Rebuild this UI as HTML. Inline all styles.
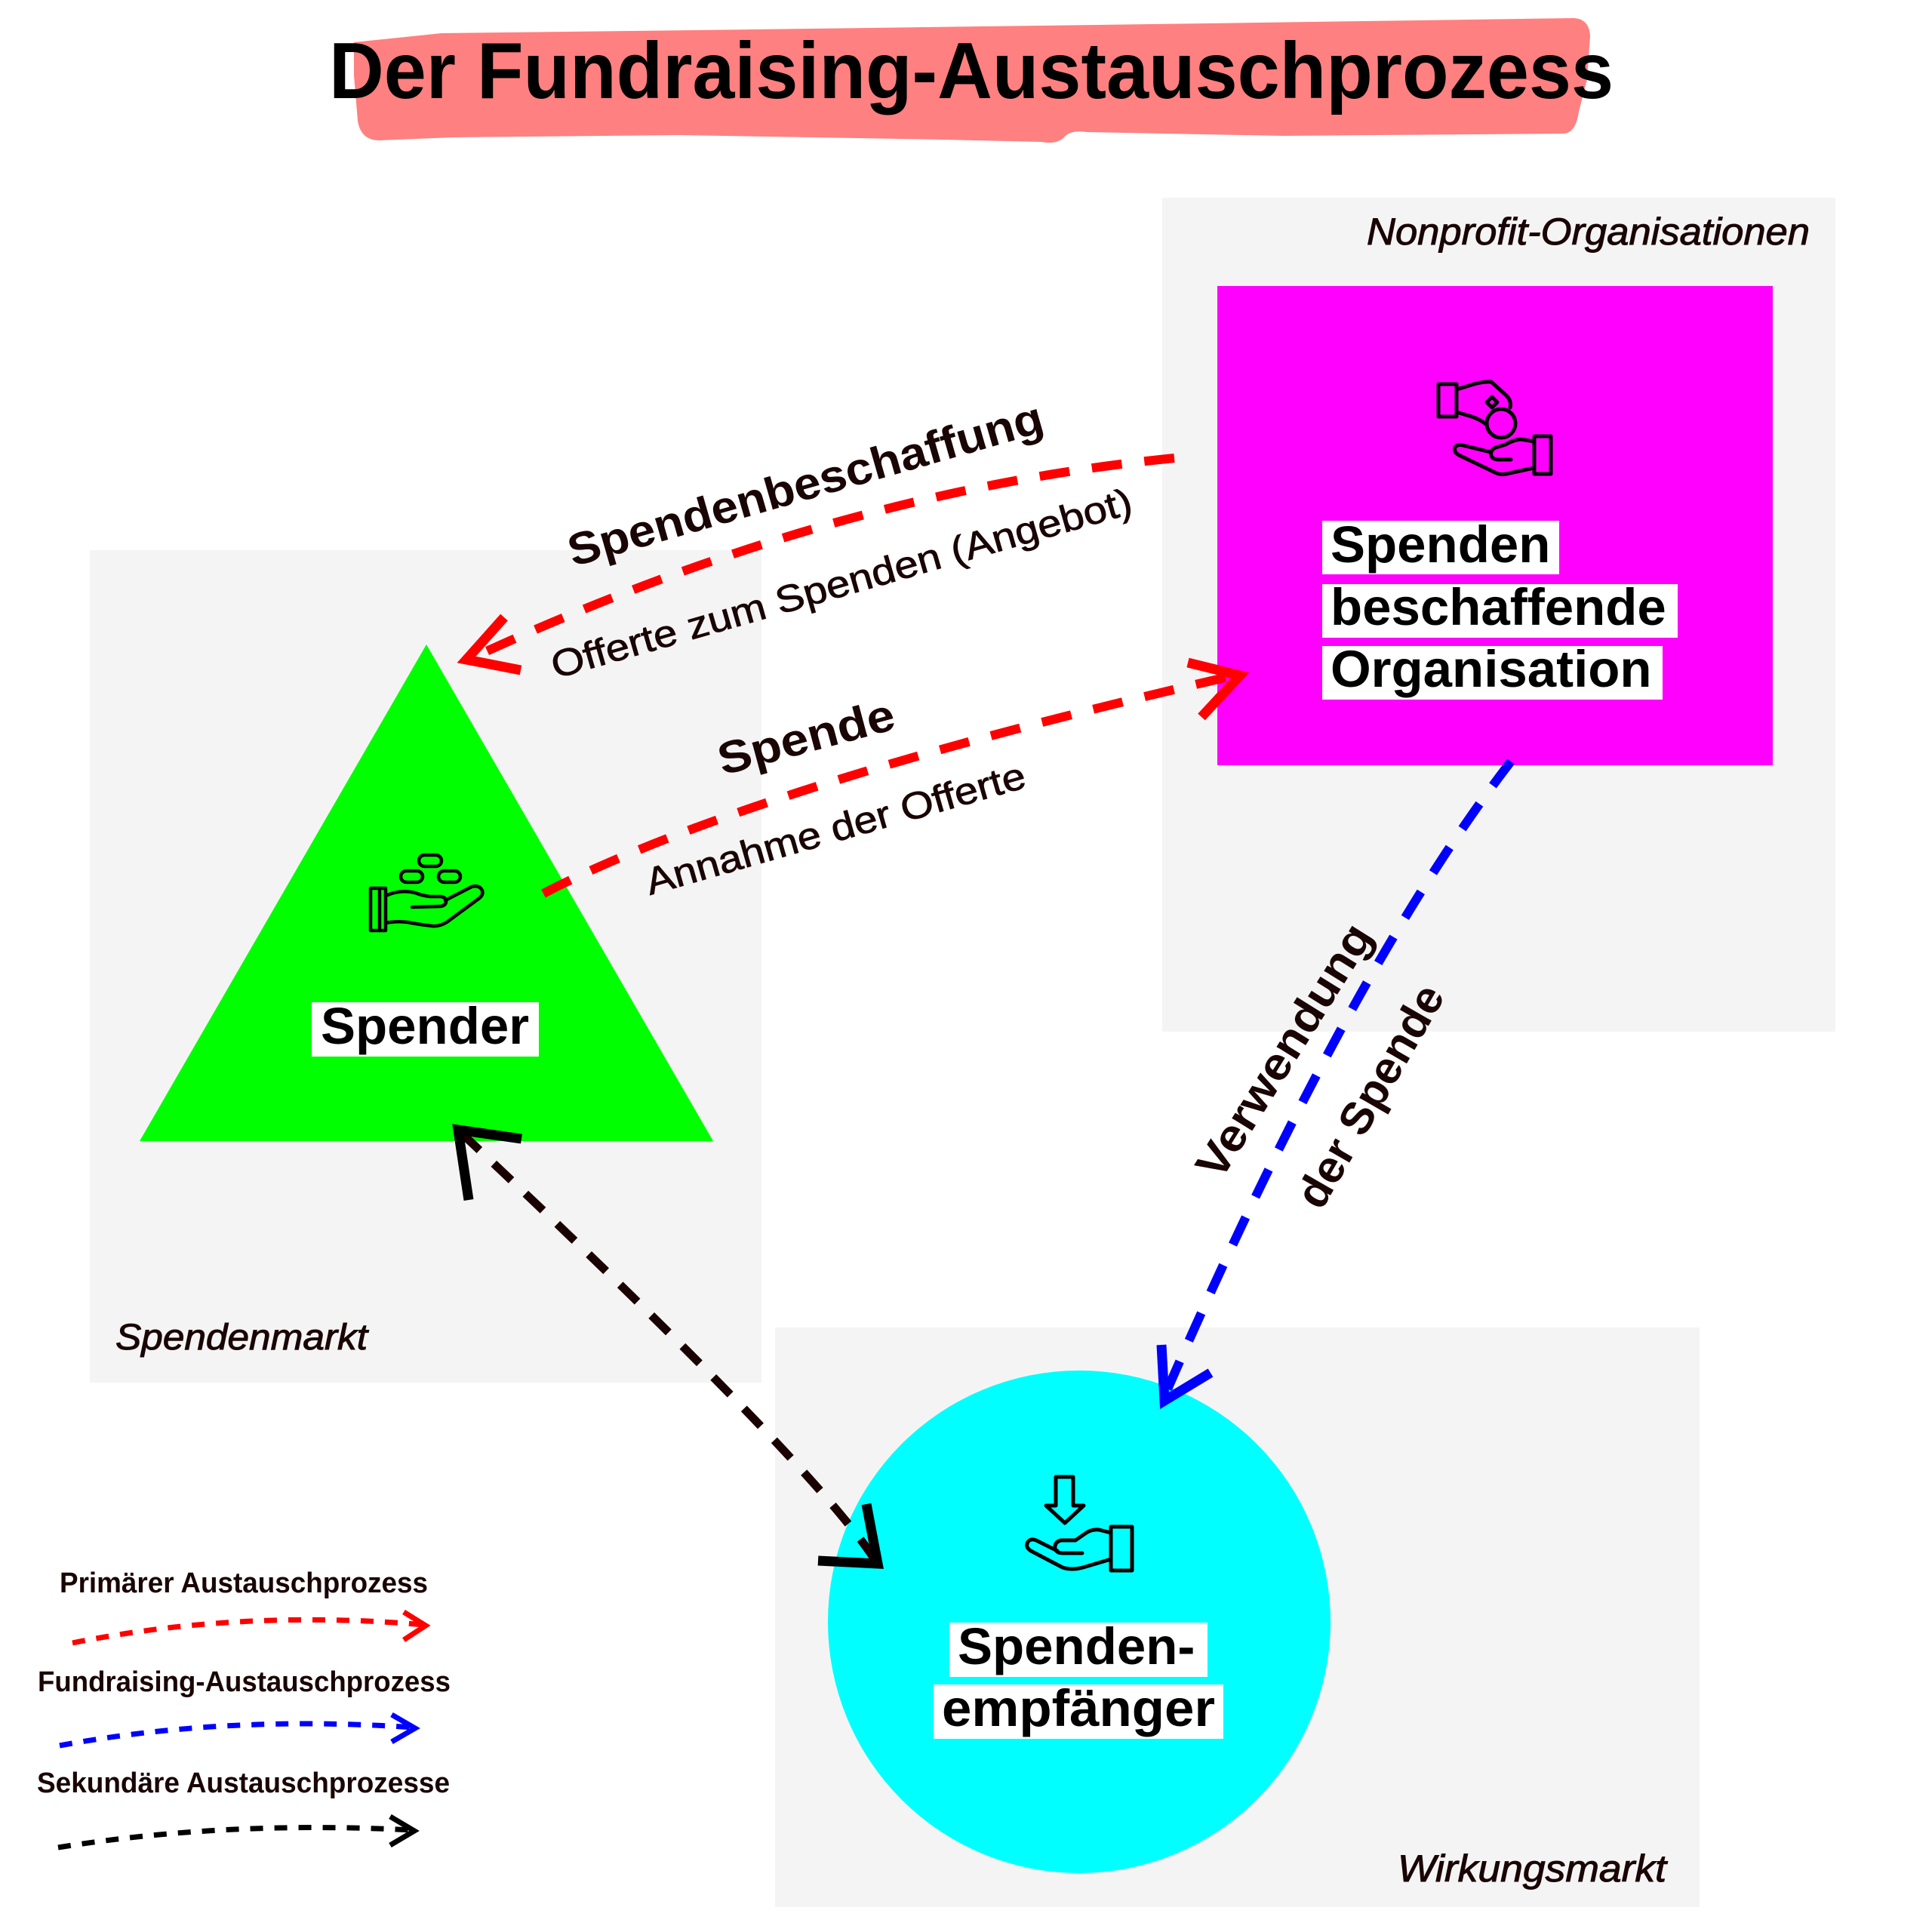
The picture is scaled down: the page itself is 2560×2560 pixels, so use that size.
<!DOCTYPE html>
<html>
<head>
<meta charset="utf-8">
<style>
html,body{margin:0;padding:0;background:#fff;}
svg{display:block;}
text{font-family:"Liberation Sans",Arial,sans-serif;}
</style>
</head>
<body>
<svg width="2560" height="2560" viewBox="0 0 2560 2560" xmlns="http://www.w3.org/2000/svg">
<rect x="0" y="0" width="2560" height="2560" fill="#ffffff"/>

<!-- Title highlight -->
<path d="M469,56 L585,44 L1000,39 L1600,31 L2085,24 Q2106,25 2107,48 L2103,105 L2092,148 Q2088,176 2072,177 L1700,180 L1440,175 Q1418,172 1410,182 Q1400,192 1380,188 L1250,185 L900,179 L600,182 L503,186 Q478,186 474,160 L469,100 Z" fill="#ff8080"/>
<text x="436" y="130" font-size="106" font-weight="bold" fill="#000" textLength="1702" lengthAdjust="spacingAndGlyphs">Der Fundraising-Austauschprozess</text>

<!-- Gray market boxes -->
<rect x="1540" y="262" width="892" height="1105" fill="#f4f4f4"/>
<rect x="119" y="729" width="890" height="1103" fill="#f4f4f4"/>
<rect x="1027" y="1759" width="1225" height="768" fill="#f4f4f4"/>

<text x="1811" y="324" font-size="50" font-style="italic" fill="#1a0505" stroke="#1a0505" stroke-width="1" textLength="587" lengthAdjust="spacingAndGlyphs">Nonprofit-Organisationen</text>
<text x="153" y="1788" font-size="48" font-style="italic" fill="#1a0505" stroke="#1a0505" stroke-width="1" textLength="334" lengthAdjust="spacingAndGlyphs">Spendenmarkt</text>
<text x="1852" y="2493" font-size="50" font-style="italic" fill="#1a0505" stroke="#1a0505" stroke-width="1" textLength="356" lengthAdjust="spacingAndGlyphs">Wirkungsmarkt</text>

<!-- Magenta node -->
<rect x="1613" y="379" width="736" height="635" fill="#ff00ff"/>
<g fill="none" stroke="#000" stroke-width="5" stroke-linejoin="round" stroke-linecap="round">
  <rect x="1906" y="509" width="24" height="43"/>
  <path d="M1930,516 C1945,512 1960,505 1976,506 L1996,524 Q2003,531 2001,540"/>
  <path d="M1930,546 L1950,552 Q1962,556 1970,563"/>
  <circle cx="1989" cy="561" r="19"/>
  <path d="M1977,526 L1984,533 L1977,540 L1970,533 Z"/>
  <rect x="2033" y="578" width="22" height="50"/>
  <path d="M2033,585 L2015,582 Q2005,583 1995,589 L1982,593 Q1974,596 1976,604 Q1978,609 1986,609 L2002,609"/>
  <path d="M2033,620 L2000,627 Q1990,630 1983,627 L1933,603 Q1926,599 1928,593 Q1931,588 1938,590 L1975,599"/>
</g>
<rect x="1752" y="690" width="314" height="71" fill="#fff"/>
<rect x="1752" y="774" width="471" height="71" fill="#fff"/>
<rect x="1752" y="856" width="451" height="71" fill="#fff"/>
<text x="1763" y="745" font-size="69" font-weight="bold" fill="#000">Spenden</text>
<text x="1763" y="828" font-size="69" font-weight="bold" fill="#000">beschaffende</text>
<text x="1763" y="910" font-size="69" font-weight="bold" fill="#000">Organisation</text>

<!-- Green triangle node -->
<polygon points="565,854 945,1512 185,1512" fill="#00ff00"/>
<g fill="none" stroke="#000" stroke-width="4.5" stroke-linejoin="round" stroke-linecap="round">
  <rect x="491" y="1177" width="20" height="56"/>
  <line x1="503" y1="1177" x2="503" y2="1233"/>
  <rect x="555" y="1133" width="30" height="15" rx="7.5"/>
  <rect x="531" y="1154" width="29" height="15" rx="7.5"/>
  <rect x="581" y="1154" width="29" height="15" rx="7.5"/>
  <path d="M511,1187 Q530,1178 550,1183 Q560,1187 570,1188 L584,1188 Q592,1189 591,1196 Q589,1201 582,1201 L546,1202"/>
  <path d="M590,1193 L625,1175 Q635,1172 639,1180 Q641,1186 634,1191 L592,1222 Q582,1228 573,1227 Q555,1225 540,1222 Q525,1220 511,1223"/>
</g>
<rect x="413" y="1328" width="301" height="72" fill="#fff"/>
<text x="425" y="1383" font-size="69" font-weight="bold" fill="#000">Spender</text>

<!-- Cyan circle node -->
<circle cx="1430" cy="2149" r="333" fill="#00ffff"/>
<g fill="none" stroke="#000" stroke-width="5" stroke-linejoin="round" stroke-linecap="round">
  <path d="M1399,1957 L1422,1957 L1422,1995 L1436,1995 L1411,2018 L1386,1995 L1399,1995 Z"/>
  <rect x="1472" y="2023" width="28" height="58"/>
  <path d="M1472,2031 L1456,2027 Q1446,2026 1438,2032 L1425,2041 L1406,2041 Q1397,2043 1398,2052 Q1400,2058 1408,2058 L1434,2058"/>
  <path d="M1472,2066 L1435,2077 Q1420,2081 1408,2077 L1366,2055 Q1358,2050 1362,2043 Q1366,2038 1373,2041 L1401,2055"/>
</g>
<rect x="1258" y="2150" width="342" height="72" fill="#fff"/>
<rect x="1237" y="2232" width="384" height="72" fill="#fff"/>
<text x="1269" y="2205" font-size="69" font-weight="bold" fill="#000">Spenden-</text>
<text x="1248" y="2287" font-size="69" font-weight="bold" fill="#000" textLength="362" lengthAdjust="spacingAndGlyphs">empfänger</text>

<!-- Red connectors -->
<path d="M1556,607 Q1100,652 625,872" fill="none" stroke="#ff0000" stroke-width="12" stroke-dasharray="40 30"/>
<polyline points="668,818 618,874 690,888" fill="none" stroke="#ff0000" stroke-width="13" stroke-linejoin="miter"/>
<path d="M720,1184 Q991,1043 1640,894" fill="none" stroke="#ff0000" stroke-width="12" stroke-dasharray="40 30"/>
<polyline points="1574,878 1643,895 1592,950" fill="none" stroke="#ff0000" stroke-width="13" stroke-linejoin="miter"/>

<!-- Blue connector -->
<path d="M2002,1009 Q1787,1288 1543,1850" fill="none" stroke="#0000ff" stroke-width="12" stroke-dasharray="40 30"/>
<polyline points="1539,1782 1543,1856 1604,1819" fill="none" stroke="#0000ff" stroke-width="13" stroke-linejoin="miter"/>

<!-- Black connector -->
<path d="M612,1502 Q1078,1940 1160,2068" fill="none" stroke="#1a0000" stroke-width="11" stroke-dasharray="32 26"/>
<polyline points="691,1509 607,1497 621,1590" fill="none" stroke="#000" stroke-width="13" stroke-linejoin="miter"/>
<polyline points="1148,1993 1163,2072 1084,2068" fill="none" stroke="#000" stroke-width="13" stroke-linejoin="miter"/>

<!-- Connector labels -->
<g fill="#1a0505">
  <text transform="translate(1067,641) rotate(-16)" x="0" y="21" text-anchor="middle" font-size="60" font-weight="bold" textLength="652" lengthAdjust="spacingAndGlyphs">Spendenbeschaffung</text>
  <text transform="translate(1115,773) rotate(-16)" x="0" y="17" text-anchor="middle" font-size="50" stroke="#1a0505" stroke-width="0.8" textLength="798" lengthAdjust="spacingAndGlyphs">Offerte zum Spenden (Angebot)</text>
  <text transform="translate(1068,976) rotate(-15)" x="0" y="21" text-anchor="middle" font-size="60" font-weight="bold" textLength="240" lengthAdjust="spacingAndGlyphs">Spende</text>
  <text transform="translate(1107,1098) rotate(-16)" x="0" y="17" text-anchor="middle" font-size="50" stroke="#1a0505" stroke-width="0.8" textLength="521" lengthAdjust="spacingAndGlyphs">Annahme der Offerte</text>
  <text transform="translate(1701,1392) rotate(-58)" x="0" y="21" text-anchor="middle" font-size="60" font-weight="bold" textLength="385" lengthAdjust="spacingAndGlyphs">Verwendung</text>
  <text transform="translate(1815,1452) rotate(-60)" x="0" y="21" text-anchor="middle" font-size="60" font-weight="bold" textLength="330" lengthAdjust="spacingAndGlyphs">der Spende</text>
</g>

<!-- Legend -->
<g fill="#1a0505">
  <text x="79" y="2110" font-size="38" font-weight="bold" textLength="488" lengthAdjust="spacingAndGlyphs">Primärer Austauschprozess</text>
  <text x="50" y="2241" font-size="38" font-weight="bold" textLength="547" lengthAdjust="spacingAndGlyphs">Fundraising-Austauschprozess</text>
  <text x="49" y="2375" font-size="38" font-weight="bold" textLength="547" lengthAdjust="spacingAndGlyphs">Sekundäre Austauschprozesse</text>
</g>
<path d="M96,2177 Q320,2132 562,2153" fill="none" stroke="#ff0000" stroke-width="7" stroke-dasharray="17 15"/>
<polyline points="535,2136 564,2154 535,2173" fill="none" stroke="#ff0000" stroke-width="7"/>
<path d="M79,2313 Q300,2272 548,2289" fill="none" stroke="#0000ff" stroke-width="7" stroke-dasharray="17 15"/>
<polyline points="519,2272 550,2290 519,2308" fill="none" stroke="#0000ff" stroke-width="7"/>
<path d="M77,2448 Q300,2412 546,2425" fill="none" stroke="#000" stroke-width="7" stroke-dasharray="17 15"/>
<polyline points="517,2407 549,2426 517,2445" fill="none" stroke="#000" stroke-width="7"/>
</svg>
</body>
</html>
